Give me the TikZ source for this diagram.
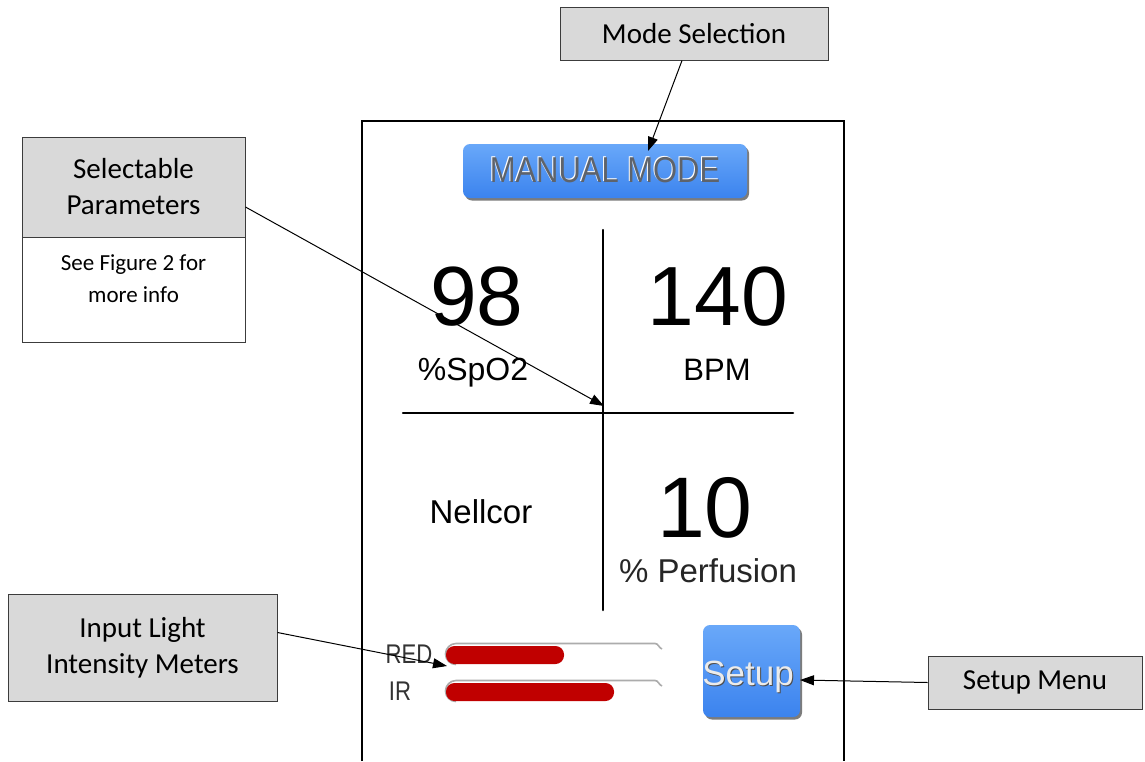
\documentclass[tikz,border=0pt]{standalone}
\usepackage{fontspec}
\setmainfont{Carlito}
\newfontfamily\screenfont{Liberation Sans}
\usetikzlibrary{arrows.meta,calc,shadows}
\definecolor{boxgray}{HTML}{D9D9D9}
\definecolor{boxline}{HTML}{3C3C3C}
\definecolor{btntop}{HTML}{69A8F9}
\definecolor{btnbot}{HTML}{3B83EE}
\definecolor{barred}{HTML}{C00000}
\definecolor{txtgray}{HTML}{5E636B}
\definecolor{lbl}{HTML}{333333}
\begin{document}
\begin{tikzpicture}[x=1pt,y=-1pt,
  callout/.style={draw=boxline, line width=1pt, fill=boxgray, inner sep=0pt, align=center, font=\fontsize{29}{36}\selectfont},
  conn/.style={line width=1pt, -{Triangle[length=14pt,width=10pt]}},
  scr/.style={font=\screenfont, inner sep=0pt, anchor=base},
  btn/.style={rounded corners=7pt, top color=btntop, bottom color=btnbot, draw=none, inner sep=0pt,
    drop shadow={shadow xshift=2pt, shadow yshift=-2.5pt, opacity=0.6, fill=black!85}},
  track/.style={draw=gray!65, line width=1.6pt},
  fillbar/.style={fill=barred, rounded corners=8.5pt},
  divline/.style={line width=2.5pt, line cap=round}
]
\useasboundingbox[fill=white] (0,0) rectangle (1145,761);

% screen frame
\draw[line width=2pt] (362,761) -- (362,121) -- (844,121) -- (844,761);

% dividing cross
\draw[divline] (603,230) -- (603,610);
\draw[divline] (403,413) -- (793,413);
\coordinate (cross) at (604,406);

% manual mode button
\node[btn, minimum width=284pt, minimum height=54pt] (manual) at (605,171) {};
\node[scr, text=white, font=\screenfont\fontsize{36}{36}\selectfont] (manualhl) at (604,181) {\scalebox{0.86}[1]{MANUAL MODE}};
\node[scr, text=txtgray, font=\screenfont\fontsize{36}{36}\selectfont] (manualtxt) at (605,182) {\scalebox{0.86}[1]{MANUAL MODE}};
\coordinate (mtip) at (648,151);

% readings
\node[scr, font=\screenfont\fontsize{84}{84}\selectfont] (spo2val) at (477,325) {98};
\node[scr, font=\screenfont\fontsize{84}{84}\selectfont] (bpmval) at (718,325) {140};
\node[scr, font=\screenfont\fontsize{32}{32}\selectfont] (spo2lbl) at (473,380) {\%SpO2};
\node[scr, font=\screenfont\fontsize{31}{31}\selectfont] (bpmlbl) at (717,380) {BPM};
\node[scr, font=\screenfont\fontsize{33}{33}\selectfont] (nellcor) at (481,523) {Nellcor};
\node[scr, font=\screenfont\fontsize{86}{86}\selectfont] (perfval) at (705,537) {10};
\node[scr, text=black!85, font=\screenfont\fontsize{33}{33}\selectfont] (perflbl) at (708,582) {\%\ Perfusion};

% meters
\draw[track] (662,649) to[out=160,in=0] (655,643.5) -- (456,643.5) arc[start angle=-90, end angle=-270, radius=10.5];
\draw[track] (662,686) to[out=160,in=0] (655,680.5) -- (456,680.5) arc[start angle=-90, end angle=-270, radius=10.5];
\fill[fillbar] (446,646) rectangle (564,664);
\fill[fillbar] (446,683) rectangle (614,701);
\node[scr, text=lbl, font=\screenfont\fontsize{27}{27}\selectfont] (redlbl) at (409,663) {\scalebox{0.82}[1]{RED}};
\node[scr, text=lbl, font=\screenfont\fontsize{27}{27}\selectfont] (irlbl) at (400,700) {\scalebox{0.82}[1]{IR}};
\coordinate (mtr) at (447,666);

% setup button
\node[btn, minimum width=97pt, minimum height=92pt] (setupbtn) at (751.5,671) {};
\node[scr, text=black!70, font=\screenfont\fontsize{35}{35}\selectfont] (setupsh) at (749,686) {Setup};
\node[scr, text=white!92!black, font=\screenfont\fontsize{35}{35}\selectfont] (setuptxt) at (748,685) {Setup};
\coordinate (stip) at (800,680);

% callouts
\node[callout, minimum width=268pt, minimum height=53pt] (modesel) at (694,33.5) {Mode Selection};
\node[callout, minimum width=223pt, minimum height=100pt] (selhead) at (133.5,187) {Selectable\\Parameters};
\node[callout, fill=white, minimum width=223pt, minimum height=105pt] (selbody) at (133.5,289.5) {};
\node[inner sep=0pt, align=center, font=\fontsize{23}{32}\selectfont] (selnote) at (133.5,279) {See Figure 2 for\\more info};
\node[callout, minimum width=269pt, minimum height=107pt] (inputbox) at (142.5,647.5) {Input Light\\Intensity Meters};
\node[callout, minimum width=214pt, minimum height=53pt] (setupmenu) at (1035,682.5) {Setup Menu};

% connectors
\draw[conn] ($(modesel.south)+(-12,0)$) -- (mtip);
\draw[conn] ($(selhead.east)+(0,20)$) -- (cross);
\draw[conn] ($(inputbox.east)+(0,-15)$) -- (mtr);
\draw[conn] (setupmenu.west) -- (stip);
\end{tikzpicture}
\end{document}
